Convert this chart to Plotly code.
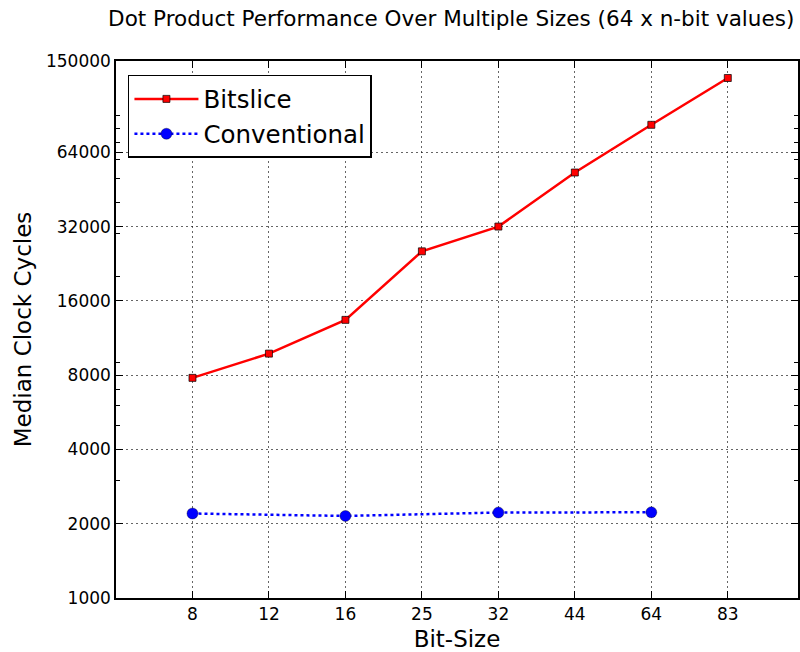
import plotly.graph_objects as go

bit_sizes = [8, 12, 16, 25, 32, 44, 64, 83]
bitslice_cycles = [7800, 9780, 13400, 25400, 32000, 53000, 82700, 128000]
conv_sizes = [8, 16, 32, 64]
conv_cycles = [2200, 2150, 2220, 2225]
y_ticks = [1000, 2000, 4000, 8000, 16000, 32000, 64000, 150000]
y_minor = [3000, 5000, 6000, 7000, 9000, 20000, 30000, 40000, 50000, 60000, 70000, 80000, 90000]

pos = {b: i + 1 for i, b in enumerate(bit_sizes)}

FONT = "DejaVu Sans"
fig = go.Figure()
fig.add_trace(go.Scatter(
    x=[pos[b] for b in bit_sizes], y=bitslice_cycles, mode="lines+markers", name="Bitslice",
    line=dict(color="#ff0000", width=2.5),
    marker=dict(symbol="square", size=7, color="#ff0000", line=dict(color="rgba(0,0,0,0.7)", width=1)),
))
fig.add_trace(go.Scatter(
    x=[pos[b] for b in conv_sizes], y=conv_cycles, mode="lines+markers", name="Conventional",
    line=dict(color="#0000ff", width=2.5, dash="dot"),
    marker=dict(symbol="circle", size=11, color="#0000ff", line=dict(color="rgba(0,0,0,0.7)", width=0.5)),
))

grid = dict(showgrid=True, gridcolor="rgba(0,0,0,0.6)", gridwidth=1, griddash="2px,3px")
axis_common = dict(showline=True, linecolor="black", linewidth=1.5, mirror="ticks",
                   ticks="inside", ticklen=7, tickwidth=1, tickcolor="black",
                   tickfont=dict(family=FONT, size=17, color="black"), zeroline=False)

fig.update_layout(
    width=800, height=652,
    margin=dict(l=116, r=0, t=61, b=54),
    paper_bgcolor="white", plot_bgcolor="white",
    title=dict(text="Dot Product Performance Over Multiple Sizes (64 x n-bit values)",
               x=0.564, xanchor="center", xref="container", y=1 - 18 / 652, yanchor="middle",
               font=dict(family=FONT, size=21.5, color="black")),
    xaxis=dict(range=[0, 684 / 76.7], tickmode="array", tickvals=[pos[b] for b in bit_sizes],
               ticktext=[str(b) for b in bit_sizes],
               title=dict(text="Bit-Size", font=dict(family=FONT, size=23, color="black"), standoff=8),
               **grid, **axis_common),
    yaxis=dict(type="log", range=[3, 5.17609], tickmode="array", tickvals=y_ticks,
               ticktext=[str(v) for v in y_ticks],
               minor=dict(tickmode="array", tickvals=y_minor, ticks="inside", ticklen=4,
                          tickcolor="black", showgrid=False),
               title=dict(text="Median Clock Cycles", font=dict(family=FONT, size=23, color="black"), standoff=8),
               **grid, **axis_common),
    legend=dict(x=0.0175, y=0.974, xanchor="left", yanchor="top",
                bordercolor="black", borderwidth=1.5, bgcolor="white",
                font=dict(family=FONT, size=24.5, color="black"), tracegroupgap=0, itemwidth=64),
    showlegend=True,
)

fig.write_html("out.html")
